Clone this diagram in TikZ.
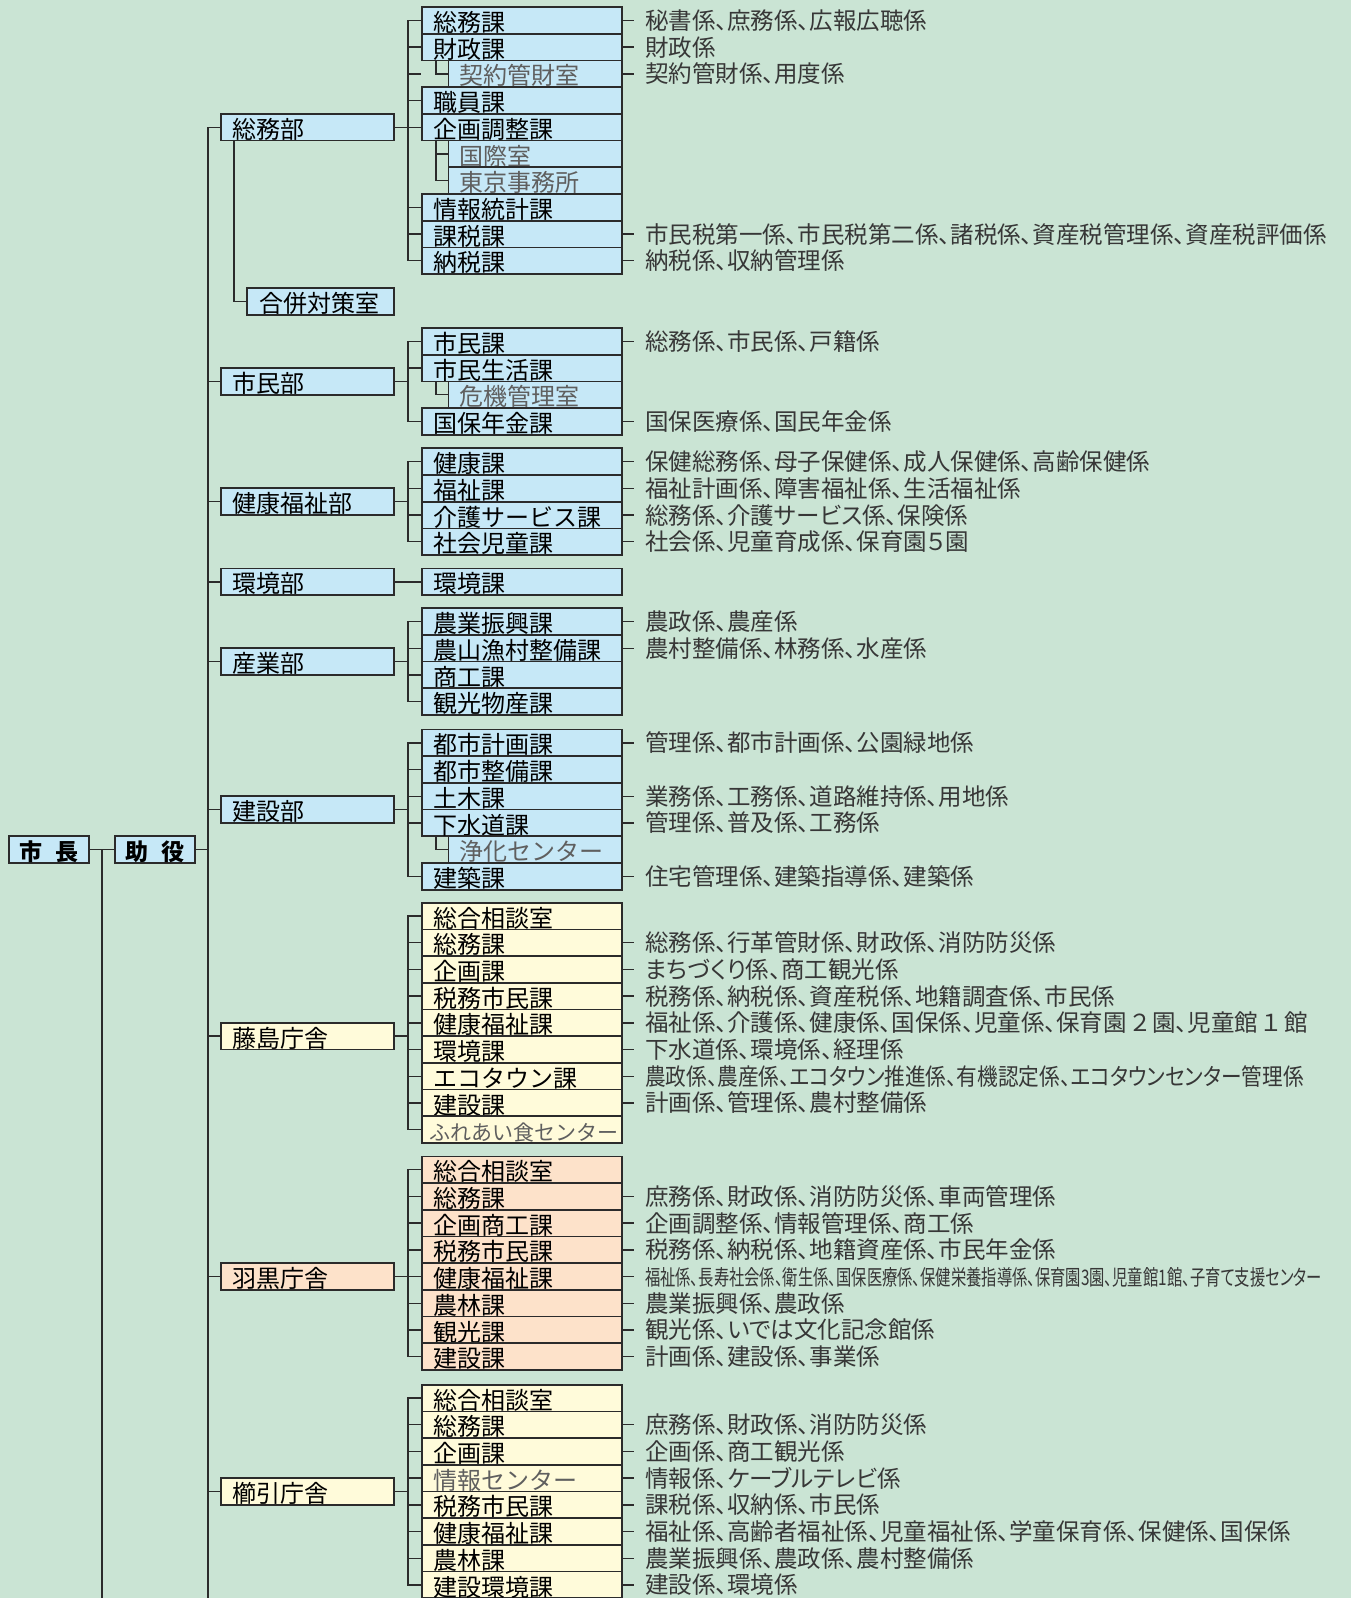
\documentclass[tikz,border=0pt]{standalone}
\usepackage{fontspec}
\setmainfont{Noto Sans CJK JP}
\newfontfamily\kakarifont{Noto Sans CJK JP}[RawFeature=+palt]
\usepackage{graphicx}
\usetikzlibrary{positioning}
\definecolor{bgGreen}{RGB}{202,228,212}
\definecolor{kaBlue}{RGB}{198,232,247}
\definecolor{kaYellow}{RGB}{255,251,218}
\definecolor{kaPeach}{RGB}{253,226,202}
\definecolor{lineGray}{RGB}{43,43,43}
\definecolor{lightText}{RGB}{95,95,95}
\definecolor{kakariText}{RGB}{55,55,55}

\begin{document}
\begin{tikzpicture}[
    x=1pt, y=-1pt,
    box/.style={
        draw=lineGray,
        line width=1.7pt,
        fill=kaBlue,
        text=black,
        inner xsep=11pt,
        inner ysep=0pt,
        outer sep=0pt,
        minimum height=26.7pt,
        text height=22.3pt,
        text depth=0pt,
        align=left,
        font=\fontsize{24pt}{26pt}\selectfont
    },
    ka/.style={box, text width=178pt},
    shitsu/.style={box, text width=151.5pt, text=lightText},
    bu/.style={box, text width=151pt},
    chief/.style={box, align=center, inner xsep=6pt, text width=68pt, font=\bfseries\fontsize{23pt}{26pt}\selectfont},
    lightText/.style={text=lightText},
    yel/.style={fill=kaYellow},
    peach/.style={fill=kaPeach},
    kakari/.style={inner sep=0pt, text=kakariText, text height=19pt, text depth=1pt, font=\kakarifont\fontsize{23.5pt}{25pt}\selectfont},
    connLine/.style={draw=lineGray, line width=1.4pt},
    kakariTick/.style={connLine, shorten >=11pt}
]
    \useasboundingbox (0,0) rectangle (1351,1598);
    \fill[bgGreen] (0,0) rectangle (1351,1598);
    \coordinate (bottomedge) at (0,1598);

    % Top
    \node[chief, anchor=east] (joyaku) at (195,849.3) {助\hspace{13pt}役};
    \node[chief, left=26pt of joyaku] (shicho) {市\hspace{13pt}長};
    \coordinate (trunk) at (208,849.3);

    % 総務部
    \node[ka, anchor=north west] (sm1) at (422,7.05) {総務課};
    \node[ka, below=0pt of sm1] (sm2) {財政課};
    \node[shitsu, anchor=north east] (sm3) at (sm2.south east) {契約管財室};
    \node[ka, anchor=north east] (sm4) at (sm3.south east) {職員課};
    \node[ka, below=0pt of sm4] (sm5) {企画調整課};
    \node[shitsu, anchor=north east] (sm6) at (sm5.south east) {国際室};
    \node[shitsu, below=0pt of sm6] (sm7) {東京事務所};
    \node[ka, anchor=north east] (sm8) at (sm7.south east) {情報統計課};
    \node[ka, below=0pt of sm8] (sm9) {課税課};
    \node[ka, below=0pt of sm9] (sm10) {納税課};
    \node[bu, left=28pt of sm5] (somubu) {総務部};
    \node[bu, text width=123pt, inner xsep=12pt, anchor=east] (gappei) at (394,301.6) {合併対策室};

    % 市民部
    \node[ka, anchor=north west] (sh1) at (422,327.95) {市民課};
    \node[ka, below=0pt of sh1] (sh2) {市民生活課};
    \node[shitsu, anchor=north east] (sh3) at (sh2.south east) {危機管理室};
    \node[ka, anchor=north east] (sh4) at (sh3.south east) {国保年金課};
    \node[bu, anchor=east] (shiminbu) at ([xshift=-28pt]sh2.south west) {市民部};

    % 健康福祉部
    \node[ka, anchor=north west] (kf1) at (422,448.25) {健康課};
    \node[ka, below=0pt of kf1] (kf2) {福祉課};
    \node[ka, below=0pt of kf2] (kf3) {介護サービス課};
    \node[ka, below=0pt of kf3] (kf4) {社会児童課};
    \node[bu, anchor=east] (kenkobu) at ([xshift=-28pt]kf2.south west) {健康福祉部};

    % 環境部
    \node[ka, anchor=north west] (kk1) at (422,568.45) {環境課};
    \node[bu, left=28pt of kk1] (kankyobu) {環境部};

    % 産業部
    \node[ka, anchor=north west] (sg1) at (422,608.15) {農業振興課};
    \node[ka, below=0pt of sg1] (sg2) {農山漁村整備課};
    \node[ka, below=0pt of sg2] (sg3) {商工課};
    \node[ka, below=0pt of sg3] (sg4) {観光物産課};
    \node[bu, anchor=east] (sangyobu) at ([xshift=-28pt]sg2.south west) {産業部};

    % 建設部
    \node[ka, anchor=north west] (ks1) at (422,729.45) {都市計画課};
    \node[ka, below=0pt of ks1] (ks2) {都市整備課};
    \node[ka, below=0pt of ks2] (ks3) {土木課};
    \node[ka, below=0pt of ks3] (ks4) {下水道課};
    \node[shitsu, anchor=north east] (ks5) at (ks4.south east) {浄化センター};
    \node[ka, anchor=north east] (ks6) at (ks5.south east) {建築課};
    \node[bu, anchor=east] (kensetsubu) at ([xshift=-28pt]ks3.south west) {建設部};

    % 藤島庁舎
    \node[ka, yel, anchor=north west] (fj1) at (422,902.65) {総合相談室};
    \node[ka, yel, below=0pt of fj1] (fj2) {総務課};
    \node[ka, yel, below=0pt of fj2] (fj3) {企画課};
    \node[ka, yel, below=0pt of fj3] (fj4) {税務市民課};
    \node[ka, yel, below=0pt of fj4] (fj5) {健康福祉課};
    \node[ka, yel, below=0pt of fj5] (fj6) {環境課};
    \node[ka, yel, below=0pt of fj6] (fj7) {エコタウン課};
    \node[ka, yel, below=0pt of fj7] (fj8) {建設課};
    \node[ka, yel, lightText, inner xsep=7pt, text width=186pt, font=\fontsize{21pt}{24pt}\selectfont, below=0pt of fj8] (fj9) {ふれあい食センター};
    \node[bu, yel, anchor=east] (fujishima) at ([xshift=-28pt]fj5.south west) {藤島庁舎};

    % 羽黒庁舎
    \node[ka, peach, anchor=north west] (hg1) at (422,1156.35) {総合相談室};
    \node[ka, peach, below=0pt of hg1] (hg2) {総務課};
    \node[ka, peach, below=0pt of hg2] (hg3) {企画商工課};
    \node[ka, peach, below=0pt of hg3] (hg4) {税務市民課};
    \node[ka, peach, below=0pt of hg4] (hg5) {健康福祉課};
    \node[ka, peach, below=0pt of hg5] (hg6) {農林課};
    \node[ka, peach, below=0pt of hg6] (hg7) {観光課};
    \node[ka, peach, below=0pt of hg7] (hg8) {建設課};
    \node[bu, peach, left=28pt of hg5] (haguro) {羽黒庁舎};

    % 櫛引庁舎
    \node[ka, yel, anchor=north west] (kb1) at (422,1384.65) {総合相談室};
    \node[ka, yel, below=0pt of kb1] (kb2) {総務課};
    \node[ka, yel, below=0pt of kb2] (kb3) {企画課};
    \node[ka, yel, lightText, below=0pt of kb3] (kb4) {情報センター};
    \node[ka, yel, below=0pt of kb4] (kb5) {税務市民課};
    \node[ka, yel, below=0pt of kb5] (kb6) {健康福祉課};
    \node[ka, yel, below=0pt of kb6] (kb7) {農林課};
    \node[ka, yel, below=0pt of kb7] (kb8) {建設環境課};
    \node[bu, yel, anchor=east] (kushibiki) at ([xshift=-28pt]kb4.south west) {櫛引庁舎};

    % Trunk lines
    \draw[connLine] (shicho.east) -- (joyaku.west);
    \coordinate (chiefjct) at ([xshift=13pt]shicho.east);
    \draw[connLine] (chiefjct) -- (chiefjct |- bottomedge);
    \draw[connLine] (joyaku.east) -- (trunk);
    \draw[connLine] (somubu.west) -- (somubu.west -| trunk) -- (trunk |- bottomedge);
    \foreach \b in {shiminbu,kenkobu,kankyobu,sangyobu,kensetsubu,fujishima,haguro,kushibiki}
        \draw[connLine] (\b.west) -- (\b.west -| trunk);

    % Branch lines
    \coordinate (smbus) at ([xshift=-14pt]sm1.west);
    \draw[connLine] (sm1.west) -- (smbus) |- (sm10.west);
    \foreach \k in {sm2,sm4,sm8,sm9} \draw[connLine] (\k.west) -- (\k.west -| smbus);
    \draw[connLine] (somubu.east) -- (sm5.west);
    \draw[connLine] (smbus |- sm3.west) -- ++(12.5pt,0);
    \draw[connLine] ([xshift=14pt]sm2.south west) |- (sm3.west);
    \draw[connLine] ([xshift=14pt]sm5.south west) |- (sm7.west);
    \draw[connLine] (sm6.west) -- ++(-12pt,0);
    \draw[connLine] ([xshift=13pt]somubu.south west) |- (gappei.west);

    \coordinate (shbus) at ([xshift=-14pt]sh1.west);
    \draw[connLine] (sh1.west) -- (shbus) |- (sh4.west);
    \draw[connLine] (sh2.west) -- (sh2.west -| shbus);
    \draw[connLine] (shiminbu.east) -- (shiminbu.east -| shbus);
    \draw[connLine] ([xshift=14pt]sh2.south west) |- (sh3.west);

    \coordinate (kfbus) at ([xshift=-14pt]kf1.west);
    \draw[connLine] (kf1.west) -- (kfbus) |- (kf4.west);
    \foreach \k in {kf2,kf3} \draw[connLine] (\k.west) -- (\k.west -| kfbus);
    \draw[connLine] (kenkobu.east) -- (kenkobu.east -| kfbus);

    \draw[connLine] (kankyobu.east) -- (kk1.west);

    \coordinate (sgbus) at ([xshift=-14pt]sg1.west);
    \draw[connLine] (sg1.west) -- (sgbus) |- (sg4.west);
    \foreach \k in {sg2,sg3} \draw[connLine] (\k.west) -- (\k.west -| sgbus);
    \draw[connLine] (sangyobu.east) -- (sangyobu.east -| sgbus);

    \coordinate (ksbus) at ([xshift=-14pt]ks1.west);
    \draw[connLine] (ks1.west) -- (ksbus) |- (ks6.west);
    \foreach \k in {ks2,ks3,ks4} \draw[connLine] (\k.west) -- (\k.west -| ksbus);
    \draw[connLine] (kensetsubu.east) -- (kensetsubu.east -| ksbus);
    \draw[connLine] ([xshift=14pt]ks4.south west) |- (ks5.west);

    \coordinate (fjbus) at ([xshift=-14pt]fj1.west);
    \draw[connLine] (fj1.west) -- (fjbus) |- (fj9.west);
    \foreach \k in {fj2,fj3,fj4,fj5,fj6,fj7,fj8} \draw[connLine] (\k.west) -- (\k.west -| fjbus);
    \draw[connLine] (fujishima.east) -- (fujishima.east -| fjbus);

    \coordinate (hgbus) at ([xshift=-14pt]hg1.west);
    \draw[connLine] (hg1.west) -- (hgbus) |- (hg8.west);
    \foreach \k in {hg2,hg3,hg4,hg6,hg7} \draw[connLine] (\k.west) -- (\k.west -| hgbus);
    \draw[connLine] (haguro.east) -- (hg5.west);

    \coordinate (kbbus) at ([xshift=-14pt]kb1.west);
    \draw[connLine] (kb1.west) -- (kbbus) |- (kb8.west);
    \foreach \k in {kb2,kb3,kb4,kb5,kb6,kb7} \draw[connLine] (\k.west) -- (\k.west -| kbbus);
    \draw[connLine] (kushibiki.east) -- (kushibiki.east -| kbbus);

    % Kakari
    \node[kakari, right=23pt of sm1] (smk1) {秘書係、庶務係、広報広聴係};
    \node[kakari, right=23pt of sm2] (smk2) {財政係};
    \node[kakari, right=23pt of sm3] (smk3) {契約管財係、用度係};
    \node[kakari, right=23pt of sm9] (smk9) {市民税第一係、市民税第二係、諸税係、資産税管理係、資産税評価係};
    \node[kakari, right=23pt of sm10] (smk10) {納税係、収納管理係};
    \node[kakari, right=23pt of sh1] (shk1) {総務係、市民係、戸籍係};
    \node[kakari, right=23pt of sh4] (shk4) {国保医療係、国民年金係};
    \node[kakari, right=23pt of kf1] (kfk1) {保健総務係、母子保健係、成人保健係、高齢保健係};
    \node[kakari, right=23pt of kf2] (kfk2) {福祉計画係、障害福祉係、生活福祉係};
    \node[kakari, right=23pt of kf3] (kfk3) {総務係、介護サービス係、保険係};
    \node[kakari, right=23pt of kf4] (kfk4) {社会係、児童育成係、保育園５園};
    \node[kakari, right=23pt of sg1] (sgk1) {農政係、農産係};
    \node[kakari, right=23pt of sg2] (sgk2) {農村整備係、林務係、水産係};
    \node[kakari, right=23pt of ks1] (ksk1) {管理係、都市計画係、公園緑地係};
    \node[kakari, right=23pt of ks3] (ksk3) {業務係、工務係、道路維持係、用地係};
    \node[kakari, right=23pt of ks4] (ksk4) {管理係、普及係、工務係};
    \node[kakari, right=23pt of ks6] (ksk6) {住宅管理係、建築指導係、建築係};
    \node[kakari, right=23pt of fj2] (fjk2) {総務係、行革管財係、財政係、消防防災係};
    \node[kakari, right=23pt of fj3] (fjk3) {まちづくり係、商工観光係};
    \node[kakari, right=23pt of fj4] (fjk4) {税務係、納税係、資産税係、地籍調査係、市民係};
    \node[kakari, right=23pt of fj5] (fjk5) {福祉係、介護係、健康係、国保係、児童係、保育園\,２\,園、児童館\,１\,館};
    \node[kakari, right=23pt of fj6] (fjk6) {下水道係、環境係、経理係};
    \node[kakari, right=23pt of fj7] (fjk7) {\scalebox{0.88}[1]{農政係、農産係、エコタウン推進係、有機認定係、エコタウンセンター管理係}};
    \node[kakari, right=23pt of fj8] (fjk8) {計画係、管理係、農村整備係};
    \node[kakari, right=23pt of hg2] (hgk2) {庶務係、財政係、消防防災係、車両管理係};
    \node[kakari, right=23pt of hg3] (hgk3) {企画調整係、情報管理係、商工係};
    \node[kakari, right=23pt of hg4] (hgk4) {税務係、納税係、地籍資産係、市民年金係};
    \node[kakari, right=23pt of hg5, font=\kakarifont\fontsize{15.3pt}{16pt}\selectfont] (hgk5) {\scalebox{1}[1.4]{福祉係、長寿社会係、衛生係、国保医療係、保健栄養指導係、保育園3園、児童館1館、子育て支援センター}};
    \node[kakari, right=23pt of hg6] (hgk6) {農業振興係、農政係};
    \node[kakari, right=23pt of hg7] (hgk7) {観光係、いでは文化記念館係};
    \node[kakari, right=23pt of hg8] (hgk8) {計画係、建設係、事業係};
    \node[kakari, right=23pt of kb2] (kbk2) {庶務係、財政係、消防防災係};
    \node[kakari, right=23pt of kb3] (kbk3) {企画係、商工観光係};
    \node[kakari, right=23pt of kb4] (kbk4) {情報係、ケーブルテレビ係};
    \node[kakari, right=23pt of kb5] (kbk5) {課税係、収納係、市民係};
    \node[kakari, right=23pt of kb6] (kbk6) {福祉係、高齢者福祉係、児童福祉係、学童保育係、保健係、国保係};
    \node[kakari, right=23pt of kb7] (kbk7) {農業振興係、農政係、農村整備係};
    \node[kakari, right=23pt of kb8] (kbk8) {建設係、環境係};

    \foreach \k/\t in {sm1/smk1,sm2/smk2,sm3/smk3,sm9/smk9,sm10/smk10,sh1/shk1,sh4/shk4,
        kf1/kfk1,kf2/kfk2,kf3/kfk3,kf4/kfk4,sg1/sgk1,sg2/sgk2,ks1/ksk1,ks3/ksk3,ks4/ksk4,ks6/ksk6,
        fj2/fjk2,fj3/fjk3,fj4/fjk4,fj5/fjk5,fj6/fjk6,fj7/fjk7,fj8/fjk8,
        hg2/hgk2,hg3/hgk3,hg4/hgk4,hg5/hgk5,hg6/hgk6,hg7/hgk7,hg8/hgk8,
        kb2/kbk2,kb3/kbk3,kb4/kbk4,kb5/kbk5,kb6/kbk6,kb7/kbk7,kb8/kbk8}
        \draw[kakariTick] (\k.east) -- (\t.west);
\end{tikzpicture}
\end{document}
